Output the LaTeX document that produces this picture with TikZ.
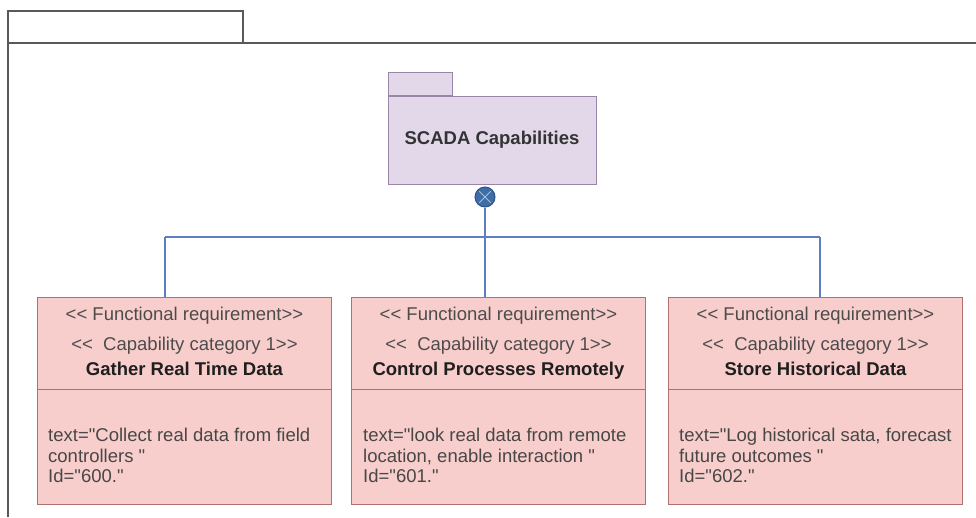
\documentclass[tikz,border=0pt]{standalone}
\usepackage{fontspec}
\newfontfamily\umlfont{Liberation Sans}
\usetikzlibrary{positioning}

\definecolor{pkgfill}{HTML}{E3D8EA}
\definecolor{pkgdraw}{HTML}{9C86A8}
\definecolor{reqfill}{HTML}{F8CECC}
\definecolor{reqdraw}{HTML}{B07070}
\definecolor{connblue}{HTML}{5C7FBF}
\definecolor{juncfill}{HTML}{3E6DA8}
\definecolor{juncdraw}{HTML}{2C5283}

\begin{document}
\begin{tikzpicture}[
  x=1pt, y=-1pt,
  frame/.style={draw=black!65, line width=1.4pt},
  pkgbody/.style={
    draw=pkgdraw,
    fill=pkgfill,
    line width=1pt,
    minimum width=208pt,
    minimum height=88pt,
    font=\umlfont\bfseries\fontsize{18.5}{22}\selectfont,
    text=black!80
  },
  pkgtab/.style={draw=pkgdraw, fill=pkgfill, line width=1pt, minimum width=64pt, minimum height=23pt, inner sep=0pt},
  reqbox/.style={
    draw=reqdraw,
    fill=reqfill,
    line width=1pt,
    minimum width=294pt,
    minimum height=207pt,
    inner sep=0pt
  },
  divider/.style={draw=reqdraw, line width=0.8pt},
  stereo/.style={font=\umlfont\fontsize{18.5}{25}\selectfont, text=black!70, align=center, inner sep=0pt, anchor=north},
  reqtext/.style={font=\umlfont\fontsize{18.5}{20.5}\selectfont, text=black!72, align=left, inner sep=0pt, anchor=north west},
  conn/.style={draw=connblue, line width=1.2pt},
  junc/.style={circle, draw=juncdraw, fill=juncfill, minimum size=20pt, inner sep=0pt, line width=1pt}
]
\useasboundingbox (0,0) rectangle (976,517);

% outer frame with its tab
\draw[frame] (8,517) -- (8,11) -- (243,11) -- (243,43);
\draw[frame] (8,43) -- (976,43);

% package
\node[pkgbody] (pkg) at (492,140) {SCADA Capabilities};
\node[pkgtab, anchor=south west] (tab) at (pkg.north west) {};
\node[junc] (junc) at (485,197) {};
\draw[white!55!juncfill, line width=1pt, shorten >=2.5pt, shorten <=2.5pt] (junc.45) -- (junc.225);
\draw[white!55!juncfill, line width=1pt, shorten >=2.5pt, shorten <=2.5pt] (junc.135) -- (junc.315);

% requirements
\node[reqbox] (req1) at (184.5,400.5) {};
\node[reqbox] (req2) at (498.5,400.5) {};
\node[reqbox] (req3) at (815.5,400.5) {};
\draw[divider] (req1.north west) ++(0,93) -- ++(294,0);
\draw[divider] (req2.north west) ++(0,93) -- ++(294,0);
\draw[divider] (req3.north west) ++(0,93) -- ++(294,0);

\node[stereo] (head1) at (184.5,307) {<< Functional requirement>>\\[5pt]<<\ \ Capability category 1>>\\{\color{black!88}\bfseries Gather Real Time Data}};
\node[stereo] (head2) at (498.5,307) {<< Functional requirement>>\\[5pt]<<\ \ Capability category 1>>\\{\color{black!88}\bfseries Control Processes Remotely}};
\node[stereo] (head3) at (815.5,307) {<< Functional requirement>>\\[5pt]<<\ \ Capability category 1>>\\{\color{black!88}\bfseries Store Historical Data}};

\node[reqtext] (body1) at (48,428) {text="Collect real data from field\\controllers "\\Id="600."};
\node[reqtext] (body2) at (363,428) {text="look real data from remote\\location, enable interaction "\\Id="601."};
\node[reqtext] (body3) at (679,428) {text="Log historical sata, forecast\\future outcomes "\\Id="602."};

% connectors
\coordinate (bus) at (485,237);
\coordinate (b1) at (165,237);
\coordinate (b3) at (820,237);
\draw[conn] (junc) -- (bus);
\draw[conn] (b1) -- (b3);
\draw[conn] (b1) -- (b1 |- req1.north);
\draw[conn] (bus) -- (bus |- req2.north);
\draw[conn] (b3) -- (b3 |- req3.north);
\end{tikzpicture}
\end{document}
